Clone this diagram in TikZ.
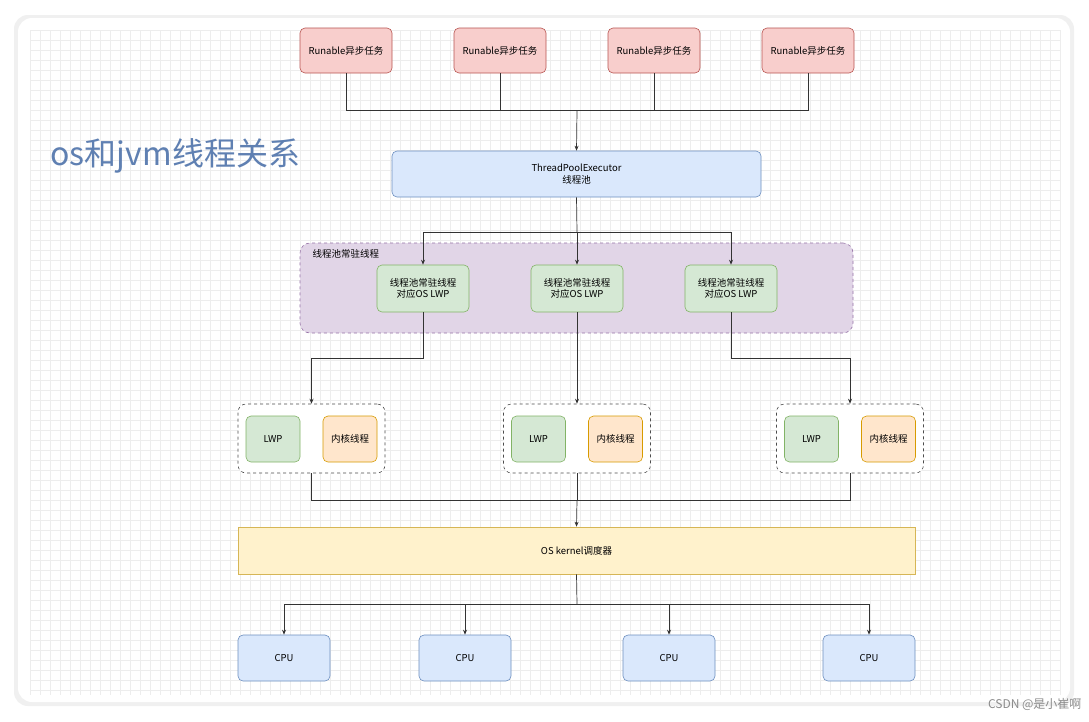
\documentclass[tikz,border=0pt]{standalone}
\usepackage{fontspec}
\setmainfont{Noto Sans CJK SC}
\usetikzlibrary{arrows.meta}
\begin{document}
\begin{tikzpicture}[x=1pt,y=-1pt,
 box/.style={draw, rounded corners=5pt, line width=0.6pt, font=\fontsize{9.5}{11.5}\selectfont, align=center, inner sep=0pt},
 red/.style={box, fill={rgb,255:red,248;green,206;blue,204}, draw={rgb,255:red,184;green,84;blue,80}},
 blu/.style={box, fill={rgb,255:red,218;green,232;blue,252}, draw={rgb,255:red,108;green,142;blue,191}},
 grn/.style={box, fill={rgb,255:red,213;green,232;blue,212}, draw={rgb,255:red,130;green,179;blue,102}},
 org/.style={box, fill={rgb,255:red,255;green,230;blue,204}, draw={rgb,255:red,215;green,155;blue,0}},
 yel/.style={box, rounded corners=0pt, fill={rgb,255:red,255;green,242;blue,204}, draw={rgb,255:red,214;green,182;blue,86}},
 grp/.style={draw=black!70, dashed, rounded corners=8pt, fill=white, line width=0.6pt},
 ln/.style={draw=black!80, line width=0.7pt},
 ar/.style={ln, -{Stealth[length=5pt,width=4pt]}}]
\useasboundingbox (0,0) rectangle (1089,721);
\fill[white] (0,0) rectangle (1089,721);
\fill[black!6, rounded corners=14pt] (14,15) rectangle (1074,706);
\fill[white, rounded corners=14pt] (18,18) rectangle (1070,702);
\begin{scope}
\clip[rounded corners=14pt] (18,18) rectangle (1070,702);
\foreach \i in {0,...,103} \draw[black!7, line width=0.4pt] (30+\i*10,30) -- (30+\i*10,695);
\foreach \i in {0,...,66} \draw[black!7, line width=0.4pt] (30,30+\i*10) -- (1060,30+\i*10);
\end{scope}
\node[anchor=west, text={rgb,255:red,95;green,128;blue,178}, font=\fontsize{32}{35}\selectfont] (title) at (47,156) {os和jvm线程关系};
\node[anchor=east, text=black!45, font=\fontsize{12}{14}\selectfont] (wm) at (1085,704) {CSDN @是小崔啊};
% tasks
\foreach \x/\n in {346/r1,500/r2,654/r3,808/r4}
  \node[red, minimum width=92pt, minimum height=45pt] (\n) at (\x,50.5) {Runable异步任务};
\node[blu, minimum width=369pt, minimum height=46pt] (tp) at (576.5,174) {ThreadPoolExecutor\\线程池};
\coordinate (j1) at (577,110);
\foreach \n in {r1,r2,r3,r4} \draw[ln] (\n.south) |- (j1);
\draw[ar] (j1) -- (tp.north);
% group
\node[draw={rgb,255:red,150;green,115;blue,166}, dashed, fill={rgb,255:red,225;green,213;blue,231}, rounded corners=10pt, minimum width=553pt, minimum height=90pt, line width=0.6pt] (pg) at (576.5,288) {};
\node[anchor=west, font=\fontsize{9.5}{11}\selectfont] (pgl) at (309,254) {线程池常驻线程};
\foreach \x/\n in {423/g1,577/g2,731/g3}
  \node[grn, minimum width=92pt, minimum height=47pt] (\n) at (\x,288.5) {线程池常驻线程\\对应OS LWP};
\coordinate (j2) at (577,232);
\draw[ln] (tp.south) -- (j2);
\foreach \n in {g1,g2,g3} \draw[ar] (j2) -| (\n.north);
% lwp groups
\foreach \x/\n in {311.5/k1,577/k2,850/k3}{
  \node[grp, minimum width=147pt, minimum height=69pt] (\n) at (\x,438.5) {};
  \node[grn, minimum width=54pt, minimum height=46pt] (\n l) at (\x-38.5,439) {LWP};
  \node[org, minimum width=54pt, minimum height=46pt] (\n o) at (\x+38.5,439) {内核线程};
}
\draw[ar] (g1.south) -- ++(0,46) -| (k1.north);
\draw[ar] (g2.south) -- (k2.north);
\draw[ar] (g3.south) -- ++(0,46) -| (k3.north);
\node[yel, minimum width=677pt, minimum height=47pt] (os) at (576.5,550.5) {OS kernel调度器};
\coordinate (j3) at (577,500);
\foreach \n in {k1,k2,k3} \draw[ln] (\n.south) |- (j3);
\draw[ar] (j3) -- (os.north);
\foreach \x/\n in {284/c1,465/c2,669/c3,869/c4}
  \node[blu, minimum width=92pt, minimum height=46pt] (\n) at (\x,658) {CPU};
\coordinate (j4) at (577,604);
\draw[ln] (os.south) -- (j4);
\foreach \n in {c1,c2,c3,c4} \draw[ar] (j4) -| (\n.north);
\end{tikzpicture}
\end{document}
